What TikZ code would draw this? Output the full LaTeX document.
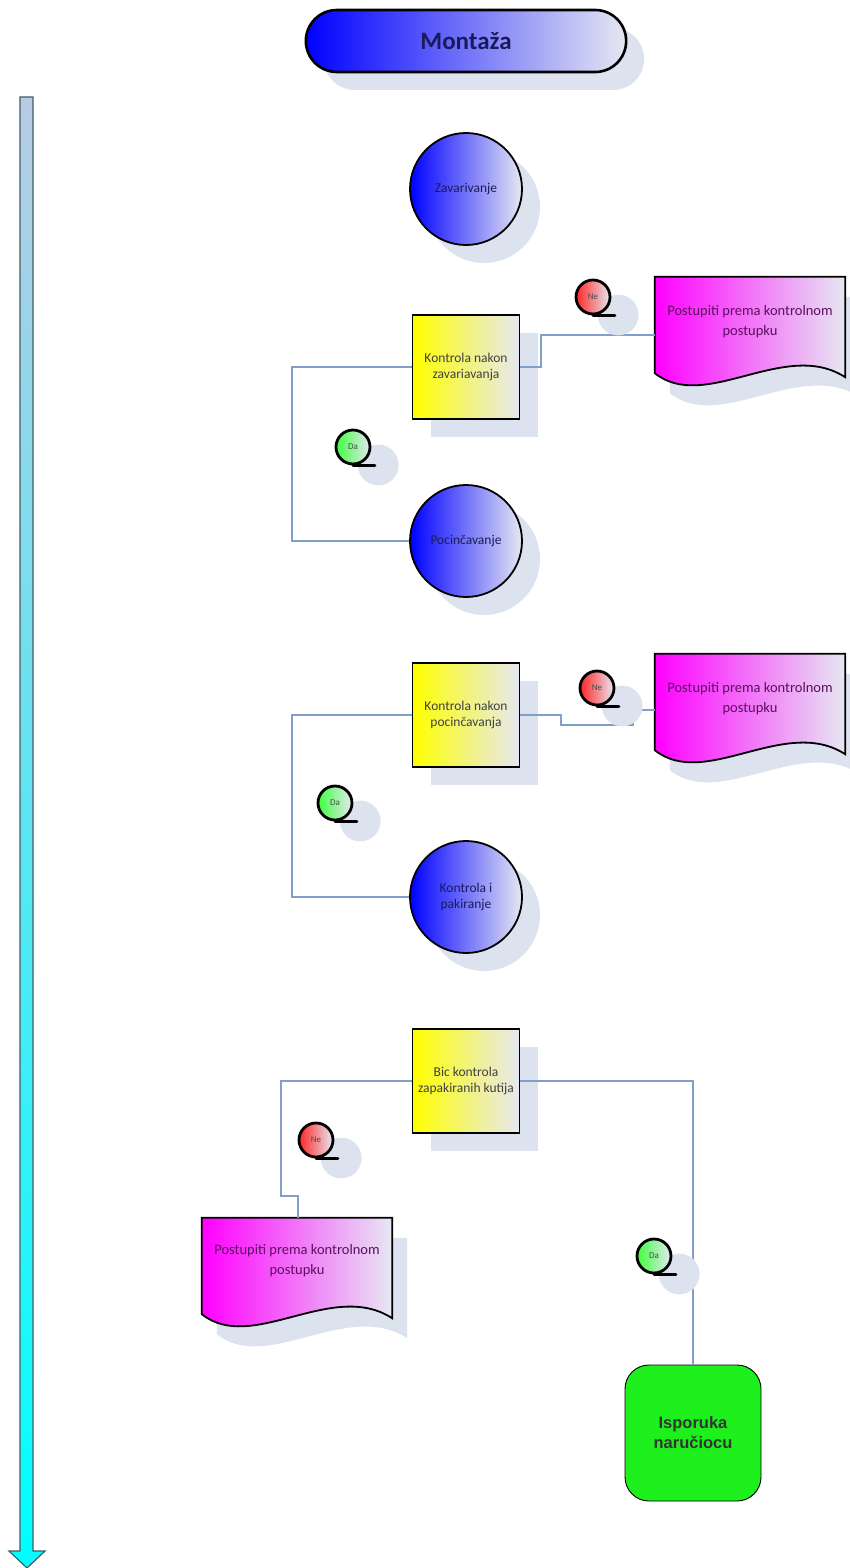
\documentclass[tikz,border=0pt]{standalone}
\usepackage{fontspec}
\setmainfont{Carlito}
\newfontfamily\arialfont{Liberation Sans}
\usepackage{tikz}
\usetikzlibrary{positioning, shadows, calc, shapes.misc}

\definecolor{shadowc}{HTML}{DCE3EF}
\definecolor{linec}{HTML}{819FCB}
\definecolor{endc}{HTML}{E6E8F2}
\definecolor{navyc}{HTML}{1A1A5C}
\definecolor{purplec}{HTML}{5C1060}
\definecolor{arrowtop}{HTML}{B8CCE4}
\definecolor{arrowline}{HTML}{3E5E6A}
\definecolor{greenc}{HTML}{1EF01E}

\tikzset{
x=1pt, y=-1pt, % pixel like units, y grows downwards
every node/.style={font=\fontsize{13.5}{16}\selectfont, align=center},
myshadow/.style={drop shadow={shadow xshift=18pt, shadow yshift=-18pt, fill=shadowc, opacity=1}},
titlebox/.style={rounded rectangle, draw, line width=2.6pt, minimum width=327pt, minimum height=62pt,
  left color=blue, right color=endc, text=navyc, font=\fontsize{25}{28}\selectfont\bfseries, myshadow},
process/.style={circle, draw, line width=1.8pt, minimum size=112pt, inner sep=0pt,
  left color=blue, right color=endc, text=navyc, myshadow},
check/.style={rectangle, draw, line width=1.8pt, minimum width=107pt, minimum height=104pt, inner sep=2pt,
  left color=yellow, right color=endc, text=black!75, myshadow},
doc/.style={rectangle, minimum width=190pt, minimum height=96pt},
doctext/.style={text=purplec, font=\fontsize{14.5}{20}\selectfont, inner sep=0pt},
tagshape/.style={circle, draw, line width=2.8pt, minimum size=34pt, inner sep=0pt,
  font=\fontsize{9}{10}\selectfont, text=black!70,
  drop shadow={shadow xshift=21pt, shadow yshift=-15pt, shadow scale=1.2, fill=shadowc, opacity=1}},
tagne/.style={tagshape, left color=red!85, right color=endc},
tagda/.style={tagshape, left color=green!75, right color=endc},
tagtail/.style={line width=2.8pt, line cap=round},
finish/.style={rectangle, rounded corners=24pt, draw, line width=0.9pt, minimum size=136pt, fill=greenc,
  font=\arialfont\fontsize{16.5}{20}\selectfont\bfseries, text=black!80},
link/.style={draw=linec, line width=1.5pt},
}

% document shape with a wavy bottom, drawn round a doc node
\newcommand{\docshape}[1]{%
  \fill[shadowc] ($(#1.north west)+(15,20)$) -- ($(#1.north east)+(15,20)$) -- ($(#1.south east)+(15,24)$)
    .. controls ($(#1.south)+(50,-15)$) and ($(#1.south)+(-30,60)$) .. ($(#1.south west)+(15,20)$) -- cycle;
  \shade[left color=magenta, right color=endc, draw=black, line width=1.8pt] (#1.north west) -- (#1.north east) -- ($(#1.south east)+(0,4)$)
    .. controls ($(#1.south)+(35,-35)$) and ($(#1.south)+(-45,40)$) .. (#1.south west) -- cycle;
}

\begin{document}
\begin{tikzpicture}
\useasboundingbox (0,0) rectangle (849,1568);

% time arrow on the left
\shade[top color=arrowtop, bottom color=cyan, draw=arrowline, line width=1.2pt]
  (20,97) -- (33,97) -- (33,1551) -- (45,1551) -- (27,1568) -- (9,1551) -- (20,1551) -- cycle;

\node[titlebox] (title) at (466,41) {Montaža};

% welding
\node[process] (zav) at (466,189) {Zavarivanje};
\node[check] (kz) at (466,367) {Kontrola nakon\\zavariavanja};
\node[process] (poc) at (466,541) {Pocinčavanje};
\node[doc] (doc1) at (750,325) {};
\docshape{doc1}
\node[doctext, anchor=north] (txt1) at ($(doc1.north)+(0,28)$) {Postupiti prema kontrolnom\\postupku};

\draw[link] (kz.west) -| (292,541) -- (poc.west);
\draw[link] (kz.east) -- (541,367) |- (655,335);

\node[tagne] (ne1) at (593,297) {Ne};
\draw[tagtail] (ne1.south) -- ++(22,0);
\node[tagda] (da1) at (353,447) {Da};
\draw[tagtail] (da1.south) -- ++(22,0);

% galvanizing
\node[check] (kp) at (466,715) {Kontrola nakon\\pocinčavanja};
\node[process] (pak) at (466,897) {Kontrola i\\pakiranje};
\node[doc] (doc2) at (750,702) {};
\docshape{doc2}
\node[doctext, anchor=north] (txt2) at ($(doc2.north)+(0,28)$) {Postupiti prema kontrolnom\\postupku};

\draw[link] (kp.west) -| (292,897) -- (pak.west);
\draw[link] (kp.east) -| (561,725) -| (633,710) -- (655,710);

\node[tagne] (ne2) at (597,688) {Ne};
\draw[tagtail] (ne2.south) -- ++(22,0);
\node[tagda] (da2) at (335,803) {Da};
\draw[tagtail] (da2.south) -- ++(22,0);

% packing
\node[check] (kb) at (466,1081) {Bic kontrola\\zapakiranih kutija};
\node[doc] (doc3) at (297,1266) {};
\docshape{doc3}
\node[doctext, anchor=north] (txt3) at ($(doc3.north)+(0,26)$) {Postupiti prema kontrolnom\\postupku};
\node[finish] (isp) at (693,1433) {Isporuka\\naručiocu};

\draw[link] (kb.west) -| (281,1196) -| (298,1218);
\draw[link] (kb.east) -| (isp.north);

\node[tagne] (ne3) at (316,1140) {Ne};
\draw[tagtail] (ne3.south) -- ++(22,0);
\node[tagda] (da3) at (654,1256) {Da};
\draw[tagtail] (da3.south) -- ++(22,0);
\end{tikzpicture}
\end{document}
